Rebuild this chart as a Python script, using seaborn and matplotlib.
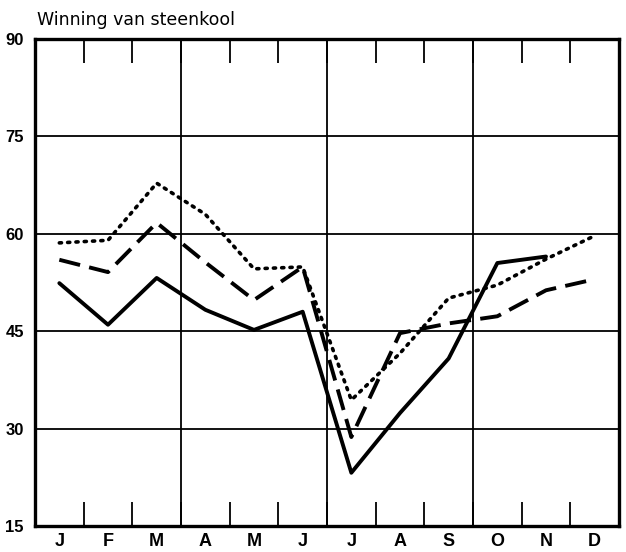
import numpy as np
import pandas as pd
import matplotlib
matplotlib.use("Agg")
import matplotlib.pyplot as plt
import seaborn as sns

months = ["J", "F", "M", "A", "M", "J", "J", "A", "S", "O", "N", "D"]
solid_vals = [52.4, 46.0, 53.2, 48.3, 45.2, 48.0, 23.2, 32.4, 40.8, 55.5, 56.5, np.nan]
dashed_vals = [56.0, 54.1, 61.7, 55.6, 49.8, 54.9, 28.7, 44.7, 46.2, 47.3, 51.3, 53.0]
dotted_vals = [58.6, 59.0, 67.8, 63.0, 54.6, 54.9, 34.4, 41.6, 50.1, 52.1, 56.1, 59.7]
y_ticks = [15, 30, 45, 60, 75, 90]
title = "Winning van steenkool"

sns.set_theme(style="white")
plt.rcParams["font.family"] = ["Liberation Sans Narrow", "Liberation Sans", "DejaVu Sans"]
plt.rcParams["text.color"] = "black"
plt.rcParams["xtick.color"] = "black"
plt.rcParams["ytick.color"] = "black"

fig = plt.figure(figsize=(6.26, 5.52), dpi=100)
ax = fig.add_axes([35 / 626, 26 / 552, 584 / 626, 487 / 552])

pos = np.arange(len(months)) + 0.5
df = pd.DataFrame({"pos": pos, "solid": solid_vals, "dashed": dashed_vals, "dotted": dotted_vals})

# grid
for yv in y_ticks[1:-1]:
    ax.axhline(yv, color="black", lw=1.3, zorder=1)
for xv in [3, 6, 9]:
    ax.axvline(xv, color="black", lw=1.3, zorder=1)

sns.lineplot(data=df, x="pos", y="dotted", ax=ax, color="black", lw=2.6,
             linestyle=(0, (0.6, 1.7)), dash_capstyle="round", zorder=3)
sns.lineplot(data=df, x="pos", y="dashed", ax=ax, color="black", lw=2.8,
             linestyle=(0, (5.5, 2.4)), zorder=3)
sns.lineplot(data=df, x="pos", y="solid", ax=ax, color="black", lw=2.8, zorder=4)

ax.set_xlim(0, 12)
ax.set_ylim(15, 90)
ax.set_xlabel("")
ax.set_ylabel("")

# boundary ticks (inward, top and bottom)
ax.set_xticks(np.arange(1, 12))
ax.set_xticklabels([])
ax.tick_params(axis="x", which="major", direction="in", length=17, width=1.3,
               top=True, bottom=True, color="black")
ax.set_xticks(pos, minor=True)
ax.set_xticklabels(months, minor=True, fontsize=13, fontweight="bold")
ax.tick_params(axis="x", which="minor", length=0, pad=5)

ax.set_yticks(y_ticks)
ax.set_yticklabels([str(v) for v in y_ticks], fontsize=12, fontweight="bold")
ax.tick_params(axis="y", length=0, pad=8)

for s in ax.spines.values():
    s.set_visible(True)
    s.set_color("black")
    s.set_linewidth(2.4)

fig.text(37 / 626, 1 - 20 / 552, title, fontsize=12.5, va="center", ha="left",
         family=["DejaVu Sans"], color="black")

fig.savefig("out.png", dpi=100)
